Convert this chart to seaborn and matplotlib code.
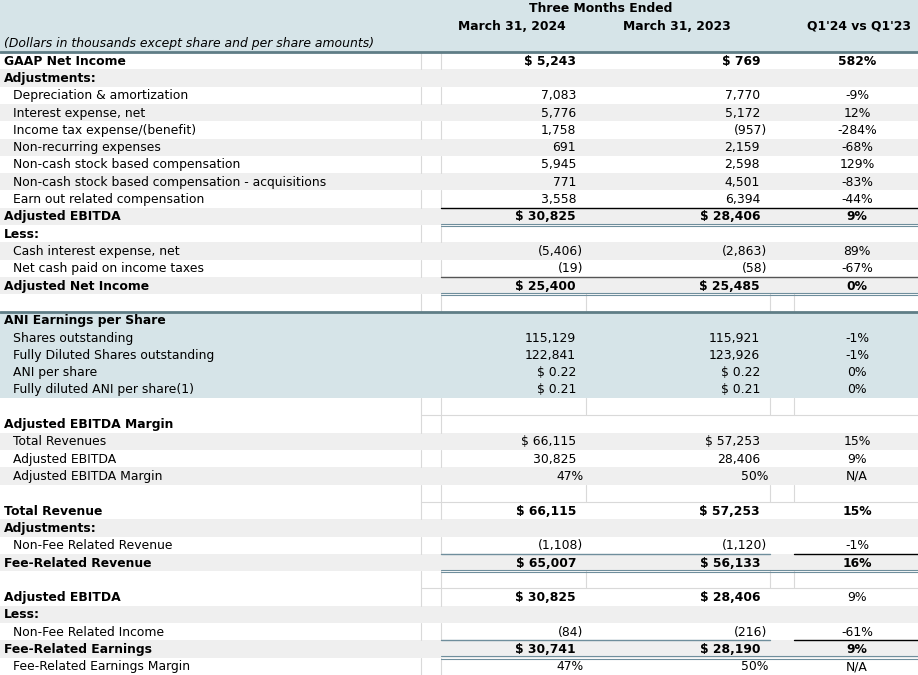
import numpy as np
import matplotlib.pyplot as plt
import seaborn as sns

# table content
labels = [
    "GAAP Net Income", "Adjustments:", "Depreciation & amortization",
    "Interest expense, net", "Income tax expense/(benefit)", "Non-recurring expenses",
    "Non-cash stock based compensation", "Non-cash stock based compensation - acquisitions",
    "Earn out related compensation", "Adjusted EBITDA", "Less:",
    "Cash interest expense, net", "Net cash paid on income taxes", "Adjusted Net Income", "",
    "ANI Earnings per Share", "Shares outstanding", "Fully Diluted Shares outstanding",
    "ANI per share", "Fully diluted ANI per share(1)", "",
    "Adjusted EBITDA Margin", "Total Revenues", "Adjusted EBITDA", "Adjusted EBITDA Margin", "",
    "Total Revenue", "Adjustments:", "Non-Fee Related Revenue", "Fee-Related Revenue", "",
    "Adjusted EBITDA", "Less:", "Non-Fee Related Income", "Fee-Related Earnings",
    "Fee-Related Earnings Margin",
]
q1_2024 = [
    "$ 5,243", "", "7,083", "5,776", "1,758", "691", "5,945", "771", "3,558", "$ 30,825", "",
    "(5,406)", "(19)", "$ 25,400", "", "", "115,129", "122,841", "$ 0.22", "$ 0.21", "",
    "", "$ 66,115", "30,825", "47%", "", "$ 66,115", "", "(1,108)", "$ 65,007", "",
    "$ 30,825", "", "(84)", "$ 30,741", "47%",
]
q1_2023 = [
    "$ 769", "", "7,770", "5,172", "(957)", "2,159", "2,598", "4,501", "6,394", "$ 28,406", "",
    "(2,863)", "(58)", "$ 25,485", "", "", "115,921", "123,926", "$ 0.22", "$ 0.21", "",
    "", "$ 57,253", "28,406", "50%", "", "$ 57,253", "", "(1,120)", "$ 56,133", "",
    "$ 28,406", "", "(216)", "$ 28,190", "50%",
]
change = [
    "582%", "", "-9%", "12%", "-284%", "-68%", "129%", "-83%", "-44%", "9%", "",
    "89%", "-67%", "0%", "", "", "-1%", "-1%", "0%", "0%", "",
    "", "15%", "9%", "N/A", "", "15%", "", "-1%", "16%", "",
    "9%", "", "-61%", "9%", "N/A",
]
col_headers = ["March 31, 2024", "March 31, 2023", "Q1'24 vs Q1'23"]

# styling (row indices)
bold_labels = {0, 1, 9, 10, 13, 15, 21, 26, 27, 29, 31, 32, 34}
bold_values = {0, 9, 13, 26, 29, 31, 34}
bold_change = {0, 9, 13, 26, 29, 34}
gray_rows = {1, 3, 5, 7, 9, 11, 13, 22, 24, 27, 29, 32, 34}
blue_rows = range(15, 20)
blank_rows = {14, 20, 25, 30}
totals_black = {9: "black", 13: "#555555"}
totals_split = {29, 34}

sns.set_theme(style="white")
plt.rcParams["font.family"] = ["DejaVu Sans"]
plt.rcParams["text.color"] = "black"

W, H = 918, 675
fig = plt.figure(figsize=(W / 100, H / 100), dpi=100)
ax = fig.add_axes([0, 0, 1, 1])
ax.set_xlim(0, W)
ax.set_ylim(H, 0)
ax.axis("off")

blue = "#d6e4e8"
gray = "#efefef"
dark = "#5f7d86"
dbl = "#6f8e9c"
grid = "#d9d9d9"
fs = 8.9

top = 52
pitch = (H - top) / len(labels)

# header
ax.axhspan(0, top, color=blue, lw=0)
ax.text(601, 9, "Three Months Ended", ha="center", va="center", fontsize=fs, fontweight="bold")
for cx, h in zip([512, 677, 859], col_headers):
    ax.text(cx, 26, h, ha="center", va="center", fontsize=fs, fontweight="bold")
ax.text(4, 43, "(Dollars in thousands except share and per share amounts)",
        ha="left", va="center", fontsize=fs, fontstyle="italic")

for i in range(len(labels)):
    y0 = top + i * pitch
    if i in gray_rows:
        ax.axhspan(y0, y0 + pitch, color=gray, lw=0)
    elif i in blue_rows:
        ax.axhspan(y0, y0 + pitch, color=blue, lw=0)
    else:
        xs = [421, 441, 586, 770, 794] if i in blank_rows else [421, 441]
        for gx in xs:
            ax.plot([gx, gx], [y0, y0 + pitch], color=grid, lw=0.8)
        if i in blank_rows:
            ax.plot([421, W], [y0 + pitch, y0 + pitch], color=grid, lw=0.8)

ax.plot([0, W], [top, top], color=dark, lw=2)
ax.plot([0, W], [top + 15 * pitch, top + 15 * pitch], color=dark, lw=2)


def anchor(s, right, paren, pct):
    if s.endswith(")"):
        return paren
    if s.endswith("%"):
        return pct
    return right


for i, lab in enumerate(labels):
    yc = top + (i + 0.5) * pitch + 0.5
    b = i in bold_labels
    ax.text(4 if b else 13, yc, lab, ha="left", va="center", fontsize=fs,
            fontweight="bold" if b else "normal")
    vw = "bold" if i in bold_values else "normal"
    if q1_2024[i]:
        ax.text(anchor(q1_2024[i], 576, 583, 584), yc, q1_2024[i], ha="right",
                va="center", fontsize=fs, fontweight=vw)
    if q1_2023[i]:
        ax.text(anchor(q1_2023[i], 760, 767, 768), yc, q1_2023[i], ha="right",
                va="center", fontsize=fs, fontweight=vw)
    if change[i]:
        ax.text(857, yc, change[i], ha="center", va="center", fontsize=fs,
                fontweight="bold" if i in bold_change else "normal")

# total underlines
for i in list(totals_black) + list(totals_split):
    ya = top + i * pitch
    yb = top + (i + 1) * pitch
    if i in totals_black:
        ax.plot([441, W], [ya, ya], color=totals_black[i], lw=1)
    else:
        ax.plot([441, 770], [ya, ya], color=dbl, lw=1)
        ax.plot([794, W], [ya, ya], color="black", lw=1)
    ax.plot([441, W], [yb - 1.2, yb - 1.2], color=dbl, lw=0.8)
    ax.plot([441, W], [yb + 1.2, yb + 1.2], color=dbl, lw=0.8)

fig.savefig("out.png", dpi=100)
